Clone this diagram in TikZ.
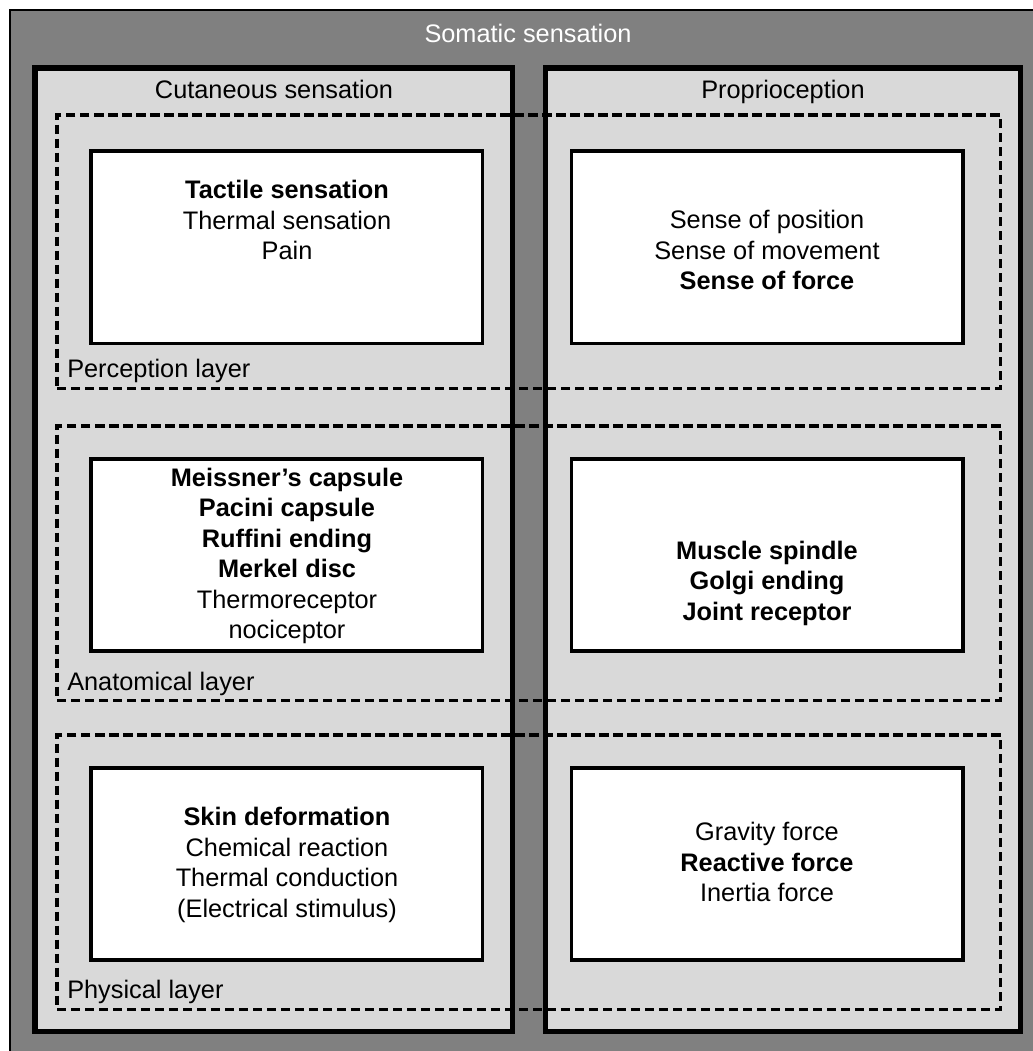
\documentclass[tikz,border=0pt]{standalone}
\usepackage{fontspec}
\setmainfont{Liberation Sans}
\usetikzlibrary{fit}
\definecolor{darkg}{HTML}{808080}
\definecolor{lightg}{HTML}{D9D9D9}
\begin{document}
\begin{tikzpicture}[x=0.75pt,y=-0.75pt,
  outerbox/.style={draw=black,line width=2.2pt,fill=darkg,inner sep=0pt},
  colbox/.style={draw=black,line width=3.8pt,fill=lightg,inner sep=0pt},
  layerbox/.style={draw=black,line width=2.3pt,dash pattern=on 7pt off 3.5pt,inner sep=0pt},
  whitebox/.style={draw=black,line width=2.3pt,fill=white,inner sep=0pt},
  txt/.style={font=\fontsize{19}{22.9}\selectfont,align=center,inner sep=0pt},
  hdr/.style={font=\fontsize{19}{22.9}\selectfont,anchor=base,inner sep=0pt},
  lbl/.style={font=\fontsize{19}{22.9}\selectfont,anchor=west,inner sep=0pt},
]
\clip (0,0) rectangle (1033,1051);
\node[outerbox,fit={(10,10)(1060,1080)}] (outer) {};
\node[colbox,fit={(35,68)(512.5,1031.5)}] (cut) {};
\node[colbox,fit={(545.5,68)(1020.5,1031.5)}] (prop) {};
\node[layerbox,fit={(57,115)(1000.5,388.5)}] (perc) {};
\node[layerbox,fit={(57,426)(1000.5,700.5)}] (anat) {};
\node[layerbox,fit={(57,735)(1000.5,1009.5)}] (phys) {};
\node[whitebox,fit={(91,151)(482.5,343.5)}] (L1) {};
\node[whitebox,fit={(571.5,151)(963,343.5)}] (R1) {};
\node[whitebox,fit={(91,459)(482.5,651)}] (L2) {};
\node[whitebox,fit={(571.5,459)(963,651)}] (R2) {};
\node[whitebox,fit={(91,768)(482.5,960)}] (L3) {};
\node[whitebox,fit={(571.5,768)(963,960)}] (R3) {};
\node[hdr,text=white] (title) at (528,42) {Somatic sensation};
\node[hdr] (cuth) at (274,98) {Cutaneous sensation};
\node[hdr] (proph) at (783,98) {Proprioception};
\node[lbl] (percl) at (67,371) {Perception layer};
\node[lbl] (anatl) at (67,684) {Anatomical layer};
\node[lbl] (physl) at (67,992) {Physical layer};
\node[txt] (t1) at (287,220) {\textbf{Tactile sensation}\\Thermal sensation\\Pain};
\node[txt] (t2) at (767,250) {Sense of position\\Sense of movement\\\textbf{Sense of force}};
\node[txt] (t3) at (287,556) {\textbf{Meissner’s capsule}\\\textbf{Pacini capsule}\\\textbf{Ruffini ending}\\\textbf{Merkel disc}\\Thermoreceptor\\nociceptor};
\node[txt] (t4) at (767,583) {\textbf{Muscle spindle}\\\textbf{Golgi ending}\\\textbf{Joint receptor}};
\node[txt] (t5) at (287,865) {\textbf{Skin deformation}\\Chemical reaction\\Thermal conduction\\(Electrical stimulus)};
\node[txt] (t6) at (767,862) {Gravity force\\\textbf{Reactive force}\\Inertia force};
\end{tikzpicture}
\end{document}
